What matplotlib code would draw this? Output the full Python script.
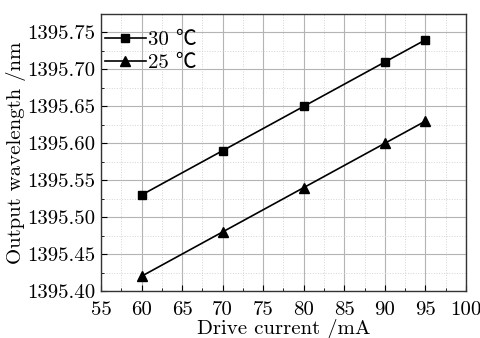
import matplotlib
matplotlib.use("Agg")
import matplotlib.pyplot as plt
from matplotlib.ticker import MultipleLocator, FormatStrFormatter

current = [60, 70, 80, 90, 95]
wl_30 = [1395.53, 1395.59, 1395.65, 1395.71, 1395.74]
wl_25 = [1395.42, 1395.48, 1395.54, 1395.60, 1395.63]
labels = ["30 ℃", "25 ℃"]

plt.rcParams['font.family'] = ['cmr10', 'Noto Sans CJK SC', 'DejaVu Serif']
plt.rcParams['axes.formatter.use_mathtext'] = True

fig = plt.figure(figsize=(4.8, 3.38), dpi=100)
ax = fig.add_axes([101/480, 1-291/338, (466-101)/480, (291-14)/338])

ax.plot(current, wl_30, '-', color='black', marker='s', markersize=6, lw=1.2, label=labels[0])
ax.plot(current, wl_25, '-', color='black', marker='^', markersize=7, lw=1.2, label=labels[1])

ax.set_xlim(55, 100)
ax.set_ylim(1395.40, 1395.775)
ax.xaxis.set_major_locator(MultipleLocator(5))
ax.xaxis.set_minor_locator(MultipleLocator(2.5))
ax.yaxis.set_major_locator(MultipleLocator(0.05))
ax.yaxis.set_minor_locator(MultipleLocator(0.025))
ax.yaxis.set_major_formatter(FormatStrFormatter('%.2f'))
ax.xaxis.set_major_formatter(FormatStrFormatter('%d'))

ax.grid(which='major', color='#b4b4b4', lw=0.8, ls='-')
ax.grid(which='minor', color='#d4d4d4', lw=0.7, ls=':')
ax.set_axisbelow(True)
ax.tick_params(which='both', direction='in', labelsize=15, top=False, right=False)
ax.tick_params(which='major', length=4)
ax.tick_params(axis='x', which='major', pad=7)
ax.tick_params(axis='y', which='major', pad=4)
ax.tick_params(which='minor', length=2)
for s in ax.spines.values():
    s.set_linewidth(1.0)
    s.set_color('#333333')

ax.set_xlabel('Drive current /mA', fontsize=15, labelpad=0)
ax.set_ylabel('Output wavelength /nm', fontsize=15, labelpad=1)

ax.legend(loc='upper left', bbox_to_anchor=(0.01, 0.94), frameon=False, fontsize=15,
          handlelength=2.0, handletextpad=0.1, borderaxespad=0.0, labelspacing=0.2,
          borderpad=0.0)

fig.savefig('out.png', dpi=100)
